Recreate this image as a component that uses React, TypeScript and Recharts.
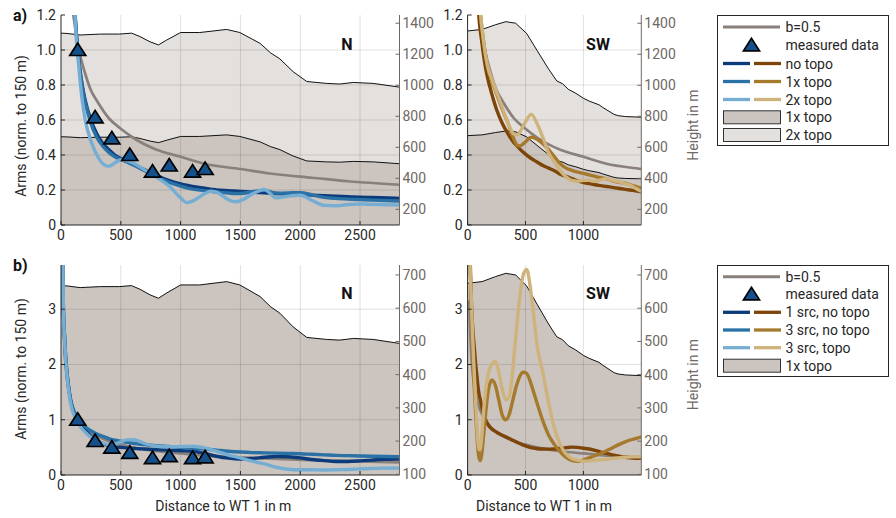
import React from 'react';
import { ComposedChart, Line, Area, Scatter, XAxis, YAxis, ReferenceLine, Label } from 'recharts';

// ---- data (distance to WT 1 in m) ----

// terrain profiles, height in m
const topoDistN = [0, 50, 160, 330, 490, 590, 660, 745, 815, 880, 1000, 1160, 1385, 1495, 1665, 1750, 1830, 1940, 2055, 2220, 2330, 2445, 2610, 2830];
const topo1xN = [668, 667, 662, 665, 665, 668, 657, 640, 630, 645, 670, 670, 680, 670, 635, 605, 585, 544, 512, 506, 504, 509, 506, 494];
const topo2xN = [1336, 1334, 1324, 1330, 1330, 1336, 1314, 1280, 1260, 1290, 1340, 1340, 1360, 1340, 1270, 1210, 1170, 1088, 1024, 1012, 1008, 1018, 1012, 988];

const topoDistSW = [0, 125, 240, 330, 415, 510, 600, 700, 770, 820, 870, 935, 1000, 1050, 1135, 1165, 1265, 1300, 1365, 1500];
const topo1xSW = [675, 680, 695, 705, 700, 667, 612, 552, 514, 505, 487, 474, 458, 449, 437, 429, 406, 402, 399, 397];
const topo2xSW = [1350, 1360, 1390, 1410, 1400, 1334, 1224, 1104, 1028, 1010, 974, 948, 916, 898, 874, 858, 812, 804, 798, 794];

// b=0.5 reference curve
const bDist = [15, 20, 30, 40, 50, 60, 80, 100, 120, 150, 200, 250, 300, 400, 500, 600, 800, 1000, 1200, 1500, 1800, 2100, 2400, 2830];
const bVals = [3.16, 2.74, 2.24, 1.94, 1.73, 1.58, 1.37, 1.22, 1.12, 1.0, 0.87, 0.77, 0.71, 0.61, 0.55, 0.5, 0.43, 0.39, 0.35, 0.32, 0.29, 0.27, 0.25, 0.23];

// measured data (N)
const measDist = [140, 285, 425, 575, 765, 905, 1100, 1205];
const measVals = [1.0, 0.615, 0.495, 0.4, 0.305, 0.34, 0.305, 0.32];

// a) N
const distAN = [100, 120, 140, 160, 180, 200, 250, 300, 350, 400, 450, 500, 550, 600, 700, 800, 900, 1000, 1050, 1100, 1200, 1250, 1300, 1400, 1450, 1500, 1600, 1700, 1800, 1900, 2000, 2100, 2200, 2300, 2400, 2500, 2600, 2830];
const noTopoN = [1.5, 1.18, 1.0, 0.88, 0.79, 0.72, 0.6, 0.52, 0.465, 0.43, 0.4, 0.38, 0.365, 0.35, 0.315, 0.283, 0.255, 0.235, 0.227, 0.22, 0.21, 0.205, 0.2, 0.196, 0.194, 0.192, 0.188, 0.184, 0.18, 0.177, 0.174, 0.171, 0.168, 0.165, 0.162, 0.159, 0.157, 0.152];
const topo1N = [1.5, 1.18, 1.0, 0.87, 0.78, 0.71, 0.58, 0.5, 0.45, 0.415, 0.39, 0.375, 0.36, 0.345, 0.31, 0.275, 0.245, 0.222, 0.212, 0.205, 0.196, 0.192, 0.188, 0.183, 0.18, 0.18, 0.19, 0.198, 0.182, 0.183, 0.185, 0.172, 0.158, 0.152, 0.148, 0.145, 0.142, 0.137];
const topo2N = [1.5, 1.15, 0.97, 0.82, 0.7, 0.61, 0.48, 0.4, 0.35, 0.335, 0.355, 0.372, 0.368, 0.355, 0.315, 0.272, 0.225, 0.155, 0.128, 0.136, 0.178, 0.193, 0.188, 0.145, 0.133, 0.138, 0.178, 0.203, 0.155, 0.165, 0.17, 0.14, 0.112, 0.11, 0.117, 0.12, 0.118, 0.114];

// a) SW
const distASW = [80, 100, 120, 140, 160, 180, 200, 250, 300, 350, 400, 430, 450, 500, 550, 600, 650, 700, 750, 800, 850, 900, 950, 1000, 1050, 1100, 1150, 1200, 1250, 1300, 1350, 1400, 1450, 1500];
const noTopoSW = [1.4, 1.17, 1.06, 0.96, 0.88, 0.82, 0.77, 0.66, 0.58, 0.52, 0.47, 0.45, 0.435, 0.405, 0.38, 0.36, 0.34, 0.325, 0.31, 0.29, 0.278, 0.265, 0.252, 0.243, 0.236, 0.23, 0.225, 0.22, 0.215, 0.21, 0.205, 0.2, 0.195, 0.19];
const topo1SW = [1.5, 1.3, 1.15, 1.04, 0.95, 0.88, 0.84, 0.75, 0.66, 0.58, 0.49, 0.455, 0.452, 0.475, 0.502, 0.49, 0.465, 0.43, 0.39, 0.35, 0.325, 0.312, 0.302, 0.295, 0.286, 0.278, 0.27, 0.265, 0.252, 0.245, 0.24, 0.23, 0.22, 0.21];
const topo2SW = [1.5, 1.3, 1.15, 1.04, 0.95, 0.89, 0.85, 0.76, 0.67, 0.58, 0.52, 0.515, 0.53, 0.59, 0.632, 0.58, 0.5, 0.41, 0.36, 0.31, 0.275, 0.255, 0.25, 0.255, 0.255, 0.25, 0.258, 0.265, 0.255, 0.248, 0.238, 0.228, 0.21, 0.192];

// b) N
const distBN = [10, 20, 30, 40, 50, 60, 80, 100, 130, 160, 200, 250, 300, 350, 400, 450, 500, 550, 600, 650, 700, 800, 900, 1000, 1100, 1200, 1300, 1400, 1500, 1600, 1700, 1800, 1900, 2000, 2100, 2200, 2300, 2400, 2500, 2600, 2700, 2830];
const src1N = [5.5, 3.0, 2.5, 2.1, 1.85, 1.65, 1.35, 1.18, 1.05, 0.95, 0.83, 0.7, 0.62, 0.57, 0.53, 0.51, 0.5, 0.49, 0.48, 0.475, 0.47, 0.46, 0.45, 0.44, 0.43, 0.39, 0.34, 0.305, 0.29, 0.3, 0.32, 0.335, 0.33, 0.31, 0.28, 0.26, 0.245, 0.245, 0.255, 0.27, 0.285, 0.29];
const src3N = [5.5, 3.0, 2.5, 2.1, 1.85, 1.65, 1.37, 1.2, 1.07, 0.98, 0.88, 0.8, 0.74, 0.7, 0.66, 0.63, 0.61, 0.59, 0.575, 0.56, 0.55, 0.53, 0.515, 0.5, 0.485, 0.47, 0.45, 0.43, 0.415, 0.405, 0.4, 0.395, 0.39, 0.385, 0.375, 0.365, 0.355, 0.35, 0.345, 0.34, 0.335, 0.33];
const src3TopoN = [5.5, 3.0, 2.45, 2.05, 1.8, 1.6, 1.3, 1.13, 1.0, 0.88, 0.78, 0.68, 0.61, 0.575, 0.55, 0.56, 0.6, 0.635, 0.64, 0.615, 0.57, 0.52, 0.51, 0.515, 0.52, 0.49, 0.43, 0.36, 0.31, 0.25, 0.2, 0.14, 0.105, 0.095, 0.095, 0.09, 0.095, 0.1, 0.11, 0.12, 0.125, 0.125];

// b) SW
const distBSW = [10, 20, 30, 40, 50, 60, 70, 80, 90, 100, 110, 120, 140, 160, 180, 210, 240, 270, 300, 330, 360, 390, 420, 450, 480, 510, 540, 570, 600, 650, 700, 750, 800, 850, 900, 950, 1000, 1050, 1100, 1150, 1200, 1250, 1300, 1350, 1400, 1450, 1500];
const src1SW = [6, 4.2, 3.3, 2.8, 2.5, 2.25, 2.0, 1.8, 1.6, 1.45, 1.36, 1.26, 1.1, 0.98, 0.9, 0.83, 0.79, 0.75, 0.72, 0.69, 0.66, 0.63, 0.6, 0.57, 0.54, 0.52, 0.5, 0.485, 0.475, 0.47, 0.468, 0.47, 0.48, 0.495, 0.505, 0.5, 0.485, 0.47, 0.445, 0.415, 0.39, 0.365, 0.345, 0.325, 0.31, 0.302, 0.3];
const src3SW = [6, 4.0, 3.2, 2.5, 1.9, 1.5, 1.1, 0.75, 0.45, 0.3, 0.26, 0.35, 0.75, 1.2, 1.55, 1.72, 1.62, 1.35, 1.08, 1.0, 1.1, 1.35, 1.6, 1.78, 1.86, 1.84, 1.7, 1.5, 1.3, 0.98, 0.72, 0.55, 0.42, 0.32, 0.265, 0.25, 0.27, 0.31, 0.35, 0.39, 0.44, 0.49, 0.545, 0.59, 0.63, 0.66, 0.69];
const src3TopoSW = [6, 4.0, 3.3, 2.7, 2.2, 1.75, 1.3, 0.9, 0.6, 0.46, 0.47, 0.65, 1.2, 1.6, 1.85, 2.0, 2.06, 1.85, 1.55, 1.36, 1.42, 1.9, 2.6, 3.2, 3.62, 3.72, 3.42, 2.9, 2.35, 1.85, 1.3, 0.85, 0.55, 0.38, 0.3, 0.27, 0.25, 0.255, 0.265, 0.275, 0.285, 0.3, 0.31, 0.32, 0.325, 0.33, 0.33];

// ---- styling ----
const FONT = 'Roboto, "DejaVu Sans", sans-serif';
const INK = '#262626';
const AX2 = '#6f6864';
const GREY = '#8a807b';
const TOPO1 = '#cbc4bf';
const TOPO2 = '#e4e0de';
const MARK = '#14508c';
const BLUE = ['#0b3b7a', '#2a71a6', '#76aed3'];
const BROWN = ['#7d4508', '#a67a2c', '#cfb37c'];

type Row = { d: number; [k: string]: number };

function merge(cols: Record<string, [number[], number[]]>): Row[] {
  const rows = new Map<number, Row>();
  Object.entries(cols).forEach(([key, [xs, ys]]) => {
    xs.forEach((d, i) => {
      const r = rows.get(d) ?? { d };
      r[key] = ys[i];
      rows.set(d, r);
    });
  });
  return [...rows.values()].sort((a, b) => a.d - b.d);
}

const rowsAN = merge({ t2: [topoDistN, topo2xN], t1: [topoDistN, topo1xN], b: [bDist, bVals], s0: [distAN, noTopoN], s1: [distAN, topo1N], s2: [distAN, topo2N] });
const rowsASW = merge({ t2: [topoDistSW, topo2xSW], t1: [topoDistSW, topo1xSW], b: [bDist, bVals], s0: [distASW, noTopoSW], s1: [distASW, topo1SW], s2: [distASW, topo2SW] });
const rowsBN = merge({ t1: [topoDistN, topo1xN], b: [bDist, bVals], s0: [distBN, src1N], s1: [distBN, src3N], s2: [distBN, src3TopoN] });
const rowsBSW = merge({ t1: [topoDistSW, topo1xSW], b: [bDist, bVals], s0: [distBSW, src1SW], s1: [distBSW, src3SW], s2: [distBSW, src3TopoSW] });
const measRows = measDist.map((d, i) => ({ d, m: measVals[i] }));

function Tri({ cx, cy }: { cx: number; cy: number }) {
  return <polygon points={`${cx},${cy - 7} ${cx - 8},${cy + 5.5} ${cx + 8},${cy + 5.5}`} fill={MARK} stroke="#000" strokeWidth={1.7} />;
}

const vText = (text: string, x: number, y: number, fill: string) => () => (
  <text x={x} y={y} transform={`rotate(-90 ${x} ${y})`} textAnchor="middle" dominantBaseline="central" fill={fill} fontSize={14} fontFamily={FONT}>
    {text}
  </text>
);
const hText = (text: string, x: number, y: number) => () => (
  <text x={x} y={y} textAnchor="middle" dominantBaseline="central" fill={INK} fontSize={14} fontFamily={FONT}>
    {text}
  </text>
);

interface PanelProps {
  left: number; top: number; width: number; height: number;
  leftW: number; rightW: number; xH: number;
  rows: Row[]; xMax: number; xTicks: number[];
  yMax: number; yTicks: number[]; yFmt: (v: number) => string;
  hDomain: [number, number]; hTicks: number[];
  areas: { key: string; fill: string }[];
  colors: string[];
  measured?: boolean;
  yLabel?: [number, number]; hLabel?: [number, number]; xLabel?: [number, number];
}

function Panel(p: PanelProps) {
  return (
    <div style={{ position: 'absolute', left: p.left, top: p.top }}>
      <ComposedChart width={p.width} height={p.height} data={p.rows} margin={{ top: 15, right: 0, bottom: 0, left: 0 }}>
        <XAxis type="number" dataKey="d" domain={[0, p.xMax]} ticks={p.xTicks} interval={0} allowDataOverflow
          height={p.xH} tickSize={-4} tickMargin={9} tick={{ fill: INK, fontSize: 14 }}
          axisLine={{ stroke: INK }} tickLine={{ stroke: INK }}>
          {p.xLabel && <Label content={hText('Distance to WT 1 in m', p.xLabel[0], p.xLabel[1])} />}
        </XAxis>
        <YAxis yAxisId="l" type="number" domain={[0, p.yMax]} ticks={p.yTicks} interval={0} allowDataOverflow
          width={p.leftW} tickSize={-4} tickMargin={9} tickFormatter={p.yFmt} tick={{ fill: INK, fontSize: 14 }}
          axisLine={{ stroke: INK }} tickLine={{ stroke: INK }}>
          {p.yLabel && <Label content={vText('Arms (norm. to 150 m)', p.yLabel[0], p.yLabel[1], INK)} />}
        </YAxis>
        <YAxis yAxisId="r" orientation="right" type="number" domain={p.hDomain} ticks={p.hTicks} interval={0}
          width={p.rightW} tickSize={-4} tickMargin={7} tick={{ fill: AX2, fontSize: 14 }}
          axisLine={{ stroke: AX2 }} tickLine={{ stroke: AX2 }}>
          {p.hLabel && <Label content={vText('Height in m', p.hLabel[0], p.hLabel[1], AX2)} />}
        </YAxis>

        {p.areas.map((a) => (
          <Area key={a.key} yAxisId="r" type="linear" dataKey={a.key} fill={a.fill} fillOpacity={1}
            stroke="#111" strokeWidth={1} connectNulls dot={false} activeDot={false} isAnimationActive={false} />
        ))}

        {p.xTicks.filter((t) => t > 0).map((t) => (
          <ReferenceLine key={`gx${t}`} x={t} yAxisId="l" stroke="rgba(0,0,0,0.12)" strokeWidth={1} />
        ))}
        {p.yTicks.filter((t) => t > 0 && t < p.yMax).map((t) => (
          <ReferenceLine key={`gy${t}`} y={t} yAxisId="l" stroke="rgba(0,0,0,0.12)" strokeWidth={1} />
        ))}

        <Line yAxisId="l" type="monotone" dataKey="b" stroke={GREY} strokeWidth={2.7} connectNulls dot={false} activeDot={false} isAnimationActive={false} />
        {['s0', 's1', 's2'].map((k, i) => (
          <Line key={k} yAxisId="l" type="monotone" dataKey={k} stroke={p.colors[i]} strokeWidth={3.4} connectNulls dot={false} activeDot={false} isAnimationActive={false} />
        ))}
        {p.measured && (
          <Scatter yAxisId="l" data={measRows} dataKey="m" isAnimationActive={false}
            shape={(s: any) => <Tri cx={s.cx} cy={s.cy} />} />
        )}
      </ComposedChart>
    </div>
  );
}

const fmtA = (v: number) => (v === 0 ? '0' : v.toFixed(1));
const fmtB = (v: number) => String(v);
const ticksN = [0, 500, 1000, 1500, 2000, 2500];
const ticksSW = [0, 500, 1000];
const ticksA = [0, 0.2, 0.4, 0.6, 0.8, 1.0, 1.2];
const ticksB = [0, 1, 2, 3];
const hTicksA = [200, 400, 600, 800, 1000, 1200, 1400];
const hTicksB = [100, 200, 300, 400, 500, 600, 700];

function LegendBox({ top, rows }: { top: number; rows: { y: number; label: string; kind: string; i?: number }[] }) {
  const h = rows.length === 7 ? 130 : 111;
  return (
    <g fontFamily={FONT} fontSize={14} fill={INK}>
      <rect x={717.5} y={top + 0.5} width={171} height={h} fill="#fff" stroke={INK} strokeWidth={1} />
      {rows.map((r) => (
        <g key={r.label + r.y}>
          {r.kind === 'grey' && <line x1={723} x2={780} y1={r.y} y2={r.y} stroke={GREY} strokeWidth={3} />}
          {r.kind === 'meas' && <Tri cx={751.5} cy={r.y} />}
          {r.kind === 'pair' && (
            <>
              <line x1={723} x2={750} y1={r.y} y2={r.y} stroke={BLUE[r.i!]} strokeWidth={3.3} />
              <line x1={754} x2={781} y1={r.y} y2={r.y} stroke={BROWN[r.i!]} strokeWidth={3.3} />
            </>
          )}
          {r.kind === 'patch1' && <rect x={723.5} y={r.y - 6.5} width={57} height={13} fill={TOPO1} stroke="#333" strokeWidth={1} />}
          {r.kind === 'patch2' && <rect x={723.5} y={r.y - 6.5} width={57} height={13} fill={TOPO2} stroke="#333" strokeWidth={1} />}
          <text x={785.5} y={r.y} dominantBaseline="central">{r.label}</text>
        </g>
      ))}
    </g>
  );
}

export default function App() {
  return (
    <div style={{ position: 'relative', width: 896, height: 518, fontFamily: FONT, background: '#fff', overflow: 'hidden' }}>
      <style>{'body{margin:0}'}</style>
      <Panel left={0} top={0} width={440} height={245} leftW={61} rightW={40.5} xH={20}
        rows={rowsAN} xMax={2830} xTicks={ticksN} yMax={1.2} yTicks={ticksA} yFmt={fmtA}
        hDomain={[99, 1453]} hTicks={hTicksA} areas={[{ key: 't2', fill: TOPO2 }, { key: 't1', fill: TOPO1 }]}
        colors={BLUE} measured yLabel={[20.7, 126]} />
      <Panel left={440} top={0} width={271.3} height={245} leftW={27.6} rightW={70} xH={20}
        rows={rowsASW} xMax={1500} xTicks={ticksSW} yMax={1.2} yTicks={ticksA} yFmt={fmtA}
        hDomain={[99, 1453]} hTicks={hTicksA} areas={[{ key: 't2', fill: TOPO2 }, { key: 't1', fill: TOPO1 }]}
        colors={BROWN} hLabel={[253.3, 125]} />
      <Panel left={0} top={250} width={440} height={268} leftW={61} rightW={40.5} xH={43}
        rows={rowsBN} xMax={2830} xTicks={ticksN} yMax={3.8} yTicks={ticksB} yFmt={fmtB}
        hDomain={[98, 730]} hTicks={hTicksB} areas={[{ key: 't1', fill: TOPO1 }]}
        colors={BLUE} measured yLabel={[20.7, 119]} xLabel={[223.3, 256]} />
      <Panel left={440} top={250} width={271.3} height={268} leftW={27.6} rightW={70} xH={43}
        rows={rowsBSW} xMax={1500} xTicks={ticksSW} yMax={3.8} yTicks={ticksB} yFmt={fmtB}
        hDomain={[98, 730]} hTicks={hTicksB} areas={[{ key: 't1', fill: TOPO1 }]}
        colors={BROWN} hLabel={[253.3, 124.5]} xLabel={[104, 256]} />

      <svg width={896} height={518} style={{ position: 'absolute', left: 0, top: 0, pointerEvents: 'none' }}>
        <g fontFamily={FONT} fontWeight="bold" fill="#111">
          <text x={13} y={21} fontSize={16}>a)</text>
          <text x={13} y={271} fontSize={16}>b)</text>
          <text x={347} y={49.5} fontSize={16} textAnchor="middle">N</text>
          <text x={598} y={49.5} fontSize={16} textAnchor="middle">SW</text>
          <text x={347} y={299} fontSize={16} textAnchor="middle">N</text>
          <text x={598} y={299} fontSize={16} textAnchor="middle">SW</text>
        </g>
        <LegendBox top={15} rows={[
          { y: 27, label: 'b=0.5', kind: 'grey' },
          { y: 45.3, label: 'measured data', kind: 'meas' },
          { y: 63.5, label: 'no topo', kind: 'pair', i: 0 },
          { y: 81.5, label: '1x topo', kind: 'pair', i: 1 },
          { y: 99.5, label: '2x topo', kind: 'pair', i: 2 },
          { y: 117.3, label: '1x topo', kind: 'patch1' },
          { y: 135, label: '2x topo', kind: 'patch2' },
        ]} />
        <LegendBox top={265} rows={[
          { y: 276.7, label: 'b=0.5', kind: 'grey' },
          { y: 294.3, label: 'measured data', kind: 'meas' },
          { y: 312.3, label: '1 src, no topo', kind: 'pair', i: 0 },
          { y: 330, label: '3 src, no topo', kind: 'pair', i: 1 },
          { y: 347.7, label: '3 src, topo', kind: 'pair', i: 2 },
          { y: 365.7, label: '1x topo', kind: 'patch1' },
        ]} />
      </svg>
    </div>
  );
}
